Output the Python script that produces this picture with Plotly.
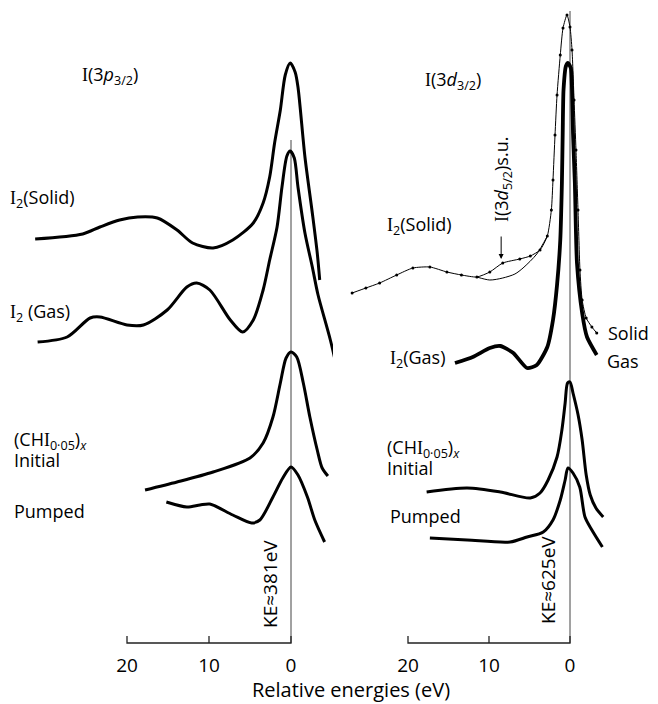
import plotly.graph_objects as go

# ---------------- data (relative energy in eV, intensity in arbitrary units, curves offset) -------------
# Left panel: I(3p3/2)
p_solid_E = [31.2, 25.4, 23.3, 20.9, 18.7, 16.3, 13.9, 12.0, 9.5, 7.1, 4.6, 3.4, 2.6, 2.0, 1.3, 0.7, 0.1, -0.5, -0.85, -1.7, -2.6, -3.2, -3.5]
p_solid_I = [404, 409, 416, 423, 426, 425, 413, 400, 395, 403, 420, 440, 466, 500, 533, 568, 580, 571, 556, 486, 430, 390, 363]

p_gas_E = [30.9, 27.3, 24.5, 23.3, 20.0, 18.0, 15.1, 12.7, 11.5, 9.9, 7.4, 5.9, 4.6, 3.4, 2.6, 1.7, 1.1, 0.5, 0.1, -0.4, -0.85, -1.7, -2.6, -3.3, -4.8, -6.0]
p_gas_I = [301, 306, 325, 326, 318, 318, 333, 356, 360, 353, 323, 311, 323, 353, 383, 416, 456, 487, 492, 485, 456, 410, 376, 348, 303, 260]

p_init_E = [17.8, 13.9, 9.5, 5.0, 3.4, 2.2, 1.3, 0.6, 0.0, -0.7, -1.5, -2.3, -3.2, -3.8, -4.5]
p_init_I = [153, 161, 171, 185, 200, 226, 260, 285, 291, 286, 260, 226, 193, 175, 167]

p_pump_E = [15.2, 12.7, 11.1, 9.9, 7.1, 4.8, 3.8, 2.2, 1.0, 0.0, -0.85, -2.0, -2.9, -4.1]
p_pump_I = [141, 136, 138, 139, 128, 120, 123, 146, 165, 176, 168, 146, 123, 101]

# Right panel: I(3d3/2)
d_solid_E = [26.9, 25.2, 23.5, 21.4, 19.4, 17.3, 15.2, 13.4, 11.5, 9.9, 8.3, 6.2, 4.9, 3.7, 2.8, 2.3, 2.1, 1.85, 1.6, 1.2, 0.86, 0.37, 0.0, -0.25, -0.5, -0.74, -0.99, -1.23, -1.5, -2.0, -2.7, -3.3]
d_solid_I = [350, 355, 360, 368, 375, 376, 371, 368, 366, 371, 380, 384, 387, 393, 407, 433, 463, 508, 548, 588, 615, 628, 616, 593, 543, 493, 433, 373, 343, 325, 316, 310]

d_fit_E = [11.5, 9.9, 8.3, 6.8, 5.8, 4.1, 2.8]
d_fit_I = [366, 363, 365, 369, 375, 389, 407]

d_gas_E = [14.2, 12.0, 9.9, 8.6, 7.0, 5.3, 4.1, 2.8, 2.1, 1.6, 1.2, 1.0, 0.9, 0.8, 0.5, 0.25, -0.1, -0.25, -0.37, -0.6, -0.86, -1.5, -2.1, -3.3]
d_gas_I = [280, 286, 295, 297, 290, 275, 278, 296, 323, 358, 403, 460, 510, 553, 577, 580, 575, 553, 510, 460, 380, 330, 306, 288]

d_init_E = [17.7, 12.7, 8.6, 4.9, 3.7, 2.7, 1.6, 1.0, 0.6, 0.3, 0.0, -0.37, -1.0, -1.5, -2.0, -2.5, -3.2, -4.1]
d_init_I = [151, 155, 151, 145, 150, 163, 186, 213, 240, 260, 261, 250, 228, 203, 168, 148, 135, 126]

d_pump_E = [17.3, 12.7, 7.4, 5.3, 3.3, 2.1, 1.2, 0.6, 0.25, -0.37, -1.2, -1.85, -2.7, -4.0]
d_pump_I = [105, 103, 101, 106, 111, 123, 143, 163, 175, 170, 156, 126, 113, 96]

# reference line (E = 0) extents
p_ref_I = [0, 503]
d_ref_I = [0, 632]

tick_vals = [20, 10, 0]
tick_text = ["20", "10", "0"]
axis_E = [20, 0]

FONT = "Open Sans"
OFF = 8            # page offset of the figure (body margin)
W, H = 650, 696
PLOT_H = 638       # plot area height (top margin 0)

fig = go.Figure()


def curve(x, y, ax, width=3.0, mode="lines", marker_size=0, smoothing=0.8, color="black"):
    fig.add_trace(go.Scatter(
        x=x, y=y, xaxis=ax, yaxis="y", mode=mode,
        line=dict(color=color, width=width, shape="spline", smoothing=smoothing),
        marker=dict(size=marker_size, color="black"),
        hoverinfo="skip", showlegend=False, cliponaxis=False))


# reference lines at E = 0
curve([0, 0], p_ref_I, "x", width=1, color="#444", smoothing=0)
curve([0, 0], d_ref_I, "x2", width=1, color="#444", smoothing=0)

# left panel curves
curve(p_solid_E, p_solid_I, "x", width=3)
curve(p_gas_E, p_gas_I, "x", width=3)
curve(p_init_E, p_init_I, "x", width=3)
curve(p_pump_E, p_pump_I, "x", width=3)

# right panel curves
curve(d_solid_E, d_solid_I, "x2", width=1, mode="lines+markers", marker_size=3, smoothing=0.6)
curve(d_fit_E, d_fit_I, "x2", width=1)
curve(d_gas_E, d_gas_I, "x2", width=3.8, smoothing=0.6)
curve(d_init_E, d_init_I, "x2", width=3)
curve(d_pump_E, d_pump_I, "x2", width=3)

# energy axes (segment from 20 to 0 eV with upward ticks)
for ax in ("x", "x2"):
    curve([axis_E[0], axis_E[0], axis_E[1], axis_E[1]], [7, 0, 0, 7], ax, width=1.3, smoothing=0, color="#222")
    curve([tick_vals[1], tick_vals[1]], [0, 7], ax, width=1.3, smoothing=0, color="#222")


def px(x):
    return (x - OFF) / W


def py(y):
    return (PLOT_H - (y - OFF)) / PLOT_H


SERIF_I = "<span style='font-family:Liberation Serif'>I</span>"
ann = []


def label(text, x, y, size=18, xanchor="left", angle=0):
    ann.append(dict(text=text, x=px(x), y=py(y), xref="paper", yref="paper",
                    xanchor=xanchor, yanchor="middle", showarrow=False, textangle=angle,
                    font=dict(family=FONT, size=size, color="black")))


label(SERIF_I + "(3<i>p</i><sub>3/2</sub>)", 80, 75, 18)
label(SERIF_I + "<sub>2</sub>(Solid)", 8, 199)
label(SERIF_I + "<sub>2</sub> (Gas)", 8, 312)
label("(CH" + SERIF_I + "<sub>0·05</sub>)<sub><i>x</i></sub>", 12, 441)
label("Initial", 12, 460)
label("Pumped", 12, 511)

label(SERIF_I + "(3<i>d</i><sub>3/2</sub>)", 423, 81, 18)
label(SERIF_I + "<sub>2</sub>(Solid)", 385, 225)
label(SERIF_I + "<sub>2</sub>(Gas)", 388, 358)
label("(CH" + SERIF_I + "<sub>0·05</sub>)<sub><i>x</i></sub>", 385, 448)
label("Initial", 385, 468)
label("Pumped", 388, 516)
label("Solid", 606, 333)
label("Gas", 605, 361)

label(SERIF_I + "(3<i>d</i><sub>5/2</sub>)s.u.", 503, 180, 18, xanchor="center", angle=-90)
label("KE≈381eV", 270, 584, 19, xanchor="center", angle=-90)
label("KE≈625eV", 548, 580, 19, xanchor="center", angle=-90)
label("Relative energies (eV)", 351, 689, 20, xanchor="center")

# arrow marking the I(3d5/2) shake-up feature
ann.append(dict(x=8.5, y=384, xref="x2", yref="y", ax=0, ay=-24, axref="pixel", ayref="pixel",
                text="", showarrow=True, arrowhead=2, arrowsize=1, arrowwidth=1, arrowcolor="black"))

common_x = dict(showgrid=False, zeroline=False, showline=False, ticks="",
                tickmode="array", tickvals=tick_vals, ticktext=tick_text, ticklabelstandoff=6,
                tickfont=dict(family=FONT, size=19, color="black"), anchor="y")

fig.update_layout(
    width=W, height=H,
    margin=dict(l=0, r=0, t=0, b=H - PLOT_H),
    paper_bgcolor="white", plot_bgcolor="white",
    xaxis=dict(domain=[0, 0.5], range=[(291 - OFF) / 8.2, (291 - OFF - 325) / 8.2], **common_x),
    xaxis2=dict(domain=[0.5, 1], range=[(570 - OFF - 325) / 8.1, (570 - OFF - 650) / 8.1], **common_x),
    yaxis=dict(range=[-3, 643 - OFF], visible=False),
    annotations=ann,
)

fig.write_html("out.html")
